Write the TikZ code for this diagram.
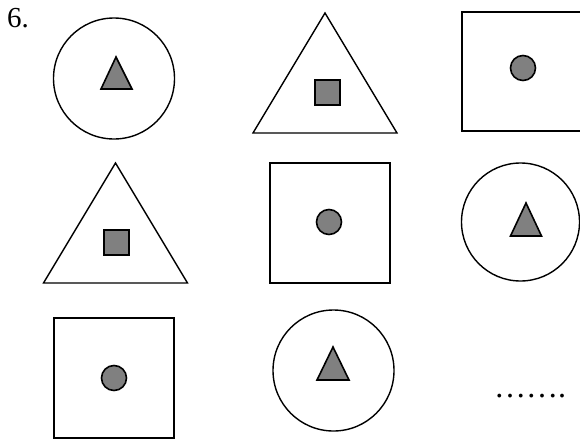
\documentclass[tikz,border=0pt]{standalone}
\usepackage{fontspec}
\setmainfont{Liberation Serif}
\definecolor{innergray}{RGB}{128,128,128}
\begin{document}
\begin{tikzpicture}[x=1pt,y=-1pt,
  outline/.style={draw=black,line width=1.4pt},
  innershape/.style={draw=black,line width=1.6pt,fill=innergray,line join=miter},
  label/.style={inner sep=0pt,anchor=base west,font=\fontsize{29}{30}\selectfont},
  dotslabel/.style={inner sep=0pt,anchor=base west,font=\fontsize{32}{34}\selectfont}
]
\useasboundingbox (0,0) rectangle (580,439);
\clip (0,0) rectangle (580,439);

% number
\node[label] (num) at (7,27.5) {6.};

% ---- row 1 ----
\draw[outline] (114,78.5) circle (60.5);
\draw[innershape] (116,57) -- (132,89) -- (101,89) -- cycle;

\draw[outline] (325,13) -- (397,133) -- (253,133) -- cycle;
\draw[innershape] (315,80) rectangle (340,105);

\draw[outline] (600,12) -- (462,12) -- (462,131) -- (600,131);
\draw[innershape] (523,68) circle (12.5);

% ---- row 2 ----
\draw[outline] (115.5,163) -- (187.5,283) -- (43.5,283) -- cycle;
\draw[innershape] (104,230) rectangle (129,255);

\draw[outline] (270,163) rectangle (390,283);
\draw[innershape] (329,222) circle (12.5);

\draw[outline] (520.5,222) circle (59);
\draw[innershape] (526,203) -- (541.5,236) -- (510.5,236) -- cycle;

% ---- row 3 ----
\draw[outline] (54,318) rectangle (174,438);
\draw[innershape] (114,378) circle (12.5);

\draw[outline] (333.5,370.5) circle (60.5);
\draw[innershape] (333,347) -- (349,380) -- (317,380) -- cycle;

\node[dotslabel] (dots) at (494,397) {…….};
\end{tikzpicture}
\end{document}
